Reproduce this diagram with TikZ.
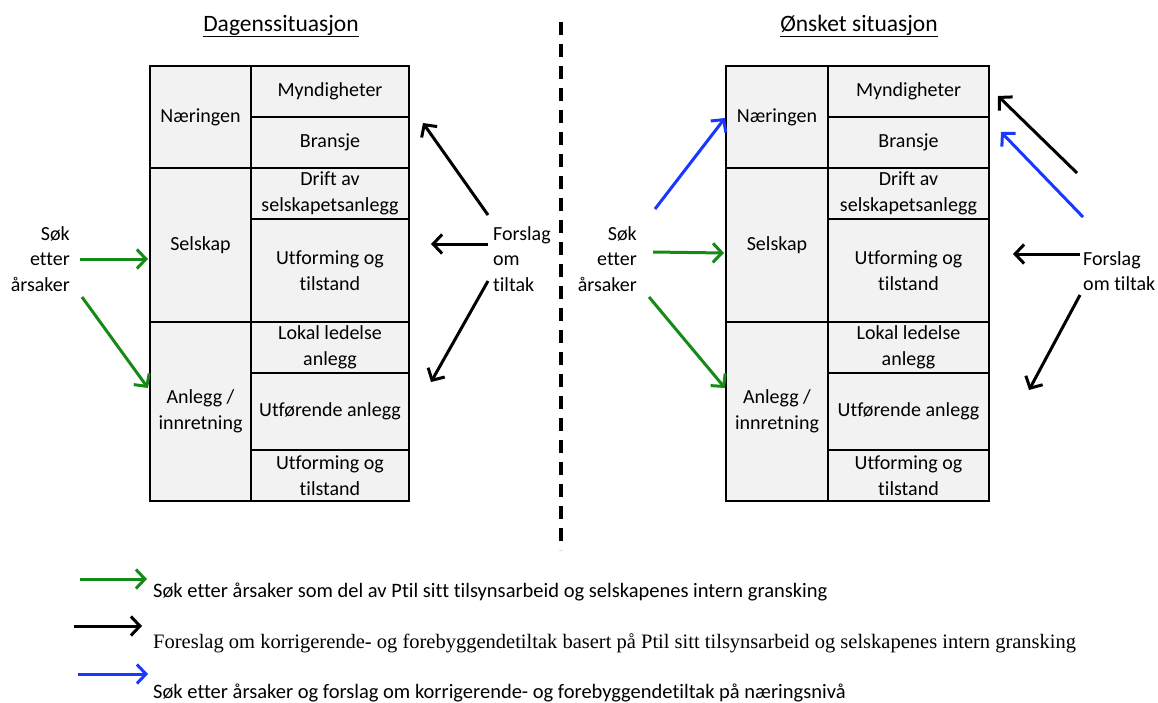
\documentclass[tikz,border=0pt]{standalone}
\usepackage{fontspec}
\setmainfont{Carlito}[Ligatures=NoCommon, Contextuals=NoAlternate]
\newfontfamily\legendserif{Liberation Serif}
\usetikzlibrary{arrows.meta}
\definecolor{cellgray}{RGB}{242,242,242}
\definecolor{seekgreen}{RGB}{22,138,22}
\definecolor{levelblue}{RGB}{25,55,255}

\tikzset{
  cell/.style={draw=black, line width=1.5pt, fill=cellgray, inner sep=0pt,
    align=center, font=\fontsize{20}{25.5}\selectfont},
  % a cell spanning the box x1/y1/x2/y2
  span/.style args={#1/#2/#3/#4}{cell,
    minimum width={(#3)-(#1)}, minimum height={(#4)-(#2)},
    at={({((#1)+(#3))/2},{((#2)+(#4))/2})}},
  lbl/.style={inner sep=0pt, font=\fontsize{20}{25.5}\selectfont},
  title/.style={inner sep=0pt, font=\fontsize{23.5}{28}\selectfont},
  legtext/.style={inner sep=0pt, anchor=west, font=\fontsize{20.5}{24}\selectfont},
  arr/.style={line width=3pt, -{Straight Barb[length=9pt,width=19pt]}},
  seek/.style={arr, draw=seekgreen},
  propose/.style={arr, draw=black},
  level/.style={arr, draw=levelblue},
}

\begin{document}
\begin{tikzpicture}[x=1pt,y=-1pt]
\path[use as bounding box] (0,0) rectangle (1158,702);

% ---------- titles ----------
\node[title] (tL) at (281,26) {\underline{Dagenssituasjon}};
\node[title] (tR) at (859,26) {\underline{Ønsket situasjon}};

% ---------- separator ----------
\coordinate (sepTop) at (561,22);
\coordinate (sepBot) at (561,550);
\draw[line width=3.2pt, dash pattern=on 13pt off 9pt] (sepTop) -- (sepBot);

% ---------- left table ----------
\node[span=150/66/251/168]  (lNar) {Næringen};
\node[span=251/66/409/117]  (lMyn) {Myndigheter};
\node[span=251/117/409/168] (lBra) {Bransje};
\node[span=150/168/251/322] (lSel) {Selskap};
\node[span=251/168/409/219] (lDri) {Drift av\\selskapetsanlegg};
\node[span=251/219/409/322] (lUtf) {Utforming og\\tilstand};
\node[span=150/322/251/501] (lAnl) {Anlegg /\\innretning};
\node[span=251/322/409/373] (lLok) {Lokal ledelse\\anlegg};
\node[span=251/373/409/450] (lUtr) {Utførende anlegg};
\node[span=251/450/409/501] (lUto) {Utforming og\\tilstand};

% ---------- right table ----------
\node[span=726/66/828/168]  (rNar) {Næringen};
\node[span=828/66/989/117]  (rMyn) {Myndigheter};
\node[span=828/117/989/168] (rBra) {Bransje};
\node[span=726/168/828/322] (rSel) {Selskap};
\node[span=828/168/989/219] (rDri) {Drift av\\selskapetsanlegg};
\node[span=828/219/989/322] (rUtf) {Utforming og\\tilstand};
\node[span=726/322/828/501] (rAnl) {Anlegg /\\innretning};
\node[span=828/322/989/373] (rLok) {Lokal ledelse\\anlegg};
\node[span=828/373/989/450] (rUtr) {Utførende anlegg};
\node[span=828/450/989/501] (rUto) {Utforming og\\tilstand};

% ---------- side labels ----------
\node[lbl, anchor=east, align=right] (lSeek) at (70,259) {Søk\\etter\\årsaker};
\node[lbl, anchor=west, align=left] (lProp) at (493,259) {Forslag\\om\\tiltak};
\node[lbl, anchor=east, align=right] (rSeek) at (637,259) {Søk\\etter\\årsaker};
\node[lbl, anchor=west, align=left] (rProp) at (1083,271) {Forslag\\om tiltak};

% ---------- arrow end points, left ----------
\coordinate (lg1s) at (80,259);   \coordinate (lg1e) at (148,259);
\coordinate (lg2s) at (82,297);   \coordinate (lg2e) at (148,388);
\coordinate (lb1s) at (488,215);  \coordinate (lb1e) at (423,123);
\coordinate (lb2s) at (488,244);  \coordinate (lb2e) at (431,244);
\coordinate (lb3s) at (488,281);  \coordinate (lb3e) at (431,382);

\draw[seek] (lg1s) -- (lg1e);
\draw[seek] (lg2s) -- (lg2e);
\draw[propose] (lb1s) -- (lb1e);
\draw[propose] (lb2s) -- (lb2e);
\draw[propose] (lb3s) -- (lb3e);

% ---------- arrow end points, right ----------
\coordinate (rl1s) at (655,209);  \coordinate (rl1e) at (725,118);
\coordinate (rg1s) at (653,252);  \coordinate (rg1e) at (724,253);
\coordinate (rg2s) at (649,297);  \coordinate (rg2e) at (725,388);
\coordinate (rb1s) at (1077,173); \coordinate (rb1e) at (998,96);
\coordinate (rl2s) at (1083,217); \coordinate (rl2e) at (1001,132);
\coordinate (rb2s) at (1080,254); \coordinate (rb2e) at (1013,254);
\coordinate (rb3s) at (1080,295); \coordinate (rb3e) at (1029,390);

\draw[level] (rl1s) -- (rl1e);
\draw[seek] (rg1s) -- (rg1e);
\draw[seek] (rg2s) -- (rg2e);
\draw[propose] (rb1s) -- (rb1e);
\draw[level] (rl2s) -- (rl2e);
\draw[propose] (rb2s) -- (rb2e);
\draw[propose] (rb3s) -- (rb3e);

% ---------- legend ----------
\coordinate (k1s) at (80,579);  \coordinate (k1e) at (147,579);
\coordinate (k2s) at (74,626);  \coordinate (k2e) at (142,626);
\coordinate (k3s) at (78,674);  \coordinate (k3e) at (148,674);
\draw[seek] (k1s) -- (k1e);
\draw[propose] (k2s) -- (k2e);
\draw[level] (k3s) -- (k3e);

\node[legtext] (k1t) at (153,592) {Søk etter årsaker som del av Ptil sitt tilsynsarbeid og selskapenes intern gransking};
\node[legtext, font=\legendserif\fontsize{20.5}{24}\selectfont] (k2t) at (153,643) {Foreslag om korrigerende- og forebyggendetiltak basert på Ptil sitt tilsynsarbeid og selskapenes intern gransking};
\node[legtext] (k3t) at (153,693) {Søk etter årsaker og forslag om korrigerende- og forebyggendetiltak på næringsnivå};
\end{tikzpicture}
\end{document}
